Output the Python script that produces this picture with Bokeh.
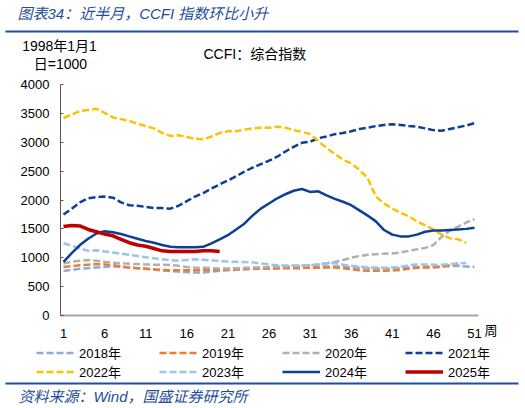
from bokeh.plotting import figure
from bokeh.models import Range1d, FixedTicker, Label, Legend, LegendItem, BoxAnnotation
from bokeh.embed import file_html
from bokeh.resources import INLINE

weeks = list(range(1, 52))
x_ticks = [1, 6, 11, 16, 21, 26, 31, 36, 41, 46, 51]
y_ticks = [0, 500, 1000, 1500, 2000, 2500, 3000, 3500, 4000]

y2018 = [770, 790, 810, 820, 830, 840, 850, 845, 830, 820, 810, 790, 780, 770, 760, 750, 745, 745,
         760, 775, 785, 790, 800, 805, 810, 815, 820, 825, 830, 835, 840, 845, 850, 850, 845, 835,
         825, 820, 815, 815, 815, 820, 830, 840, 845, 850, 850, 855, 860, 850, 840]
y2019 = [840, 855, 870, 880, 890, 885, 870, 850, 830, 820, 810, 800, 790, 785, 785, 785, 785, 790,
         790, 790, 795, 800, 805, 810, 815, 815, 815, 820, 820, 820, 825, 825, 830, 830, 820, 800,
         785, 775, 775, 775, 780, 790, 810, 825, 830, 830, 845, 870, 900]
y2020 = [900, 930, 950, 960, 950, 930, 915, 905, 895, 890, 885, 880, 880, 875, 860, 840, 830, 825,
         820, 815, 815, 820, 825, 830, 835, 840, 845, 850, 855, 860, 870, 885, 905, 925, 960, 1000,
         1030, 1050, 1060, 1070, 1075, 1090, 1120, 1145, 1170, 1220, 1360, 1470, 1540, 1610, 1670]
y2021 = [1750, 1850, 1960, 2030, 2050, 2060, 2040, 1960, 1910, 1900, 1880, 1860, 1860, 1850, 1900,
         1980, 2060, 2120, 2200, 2270, 2340, 2410, 2490, 2560, 2620, 2680, 2750, 2840, 2920, 2990,
         3010, 3070, 3100, 3140, 3160, 3190, 3230, 3250, 3280, 3300, 3310, 3300, 3280, 3270, 3240,
         3210, 3200, 3230, 3260, 3290, 3330]
y2022 = [3420, 3480, 3540, 3560, 3580, 3510, 3430, 3400, 3370, 3320, 3280, 3240, 3160, 3110, 3120,
         3090, 3060, 3050, 3100, 3160, 3190, 3190, 3220, 3240, 3250, 3250, 3270, 3250, 3210, 3180,
         3140, 3020, 2900, 2800, 2700, 2630, 2520, 2380, 2060, 1940, 1850, 1780, 1720, 1630, 1560,
         1490, 1400, 1340, 1320, 1260]
y2023 = [1250, 1210, 1160, 1120, 1130, 1110, 1090, 1070, 1050, 1030, 1010, 990, 975, 960, 950, 960,
         975, 965, 955, 940, 935, 930, 925, 920, 900, 885, 870, 865, 865, 865, 870, 885, 900, 905,
         880, 860, 845, 835, 830, 825, 830, 845, 870, 885, 885, 880, 880, 890, 900, 910]
y2024 = [930, 1080, 1220, 1330, 1420, 1460, 1440, 1410, 1370, 1330, 1290, 1260, 1220, 1190, 1180,
         1180, 1180, 1190, 1250, 1320, 1390, 1490, 1590, 1730, 1850, 1940, 2030, 2100, 2160, 2190,
         2140, 2150, 2080, 2020, 1970, 1910, 1820, 1730, 1630, 1480, 1400, 1370, 1370, 1400, 1450,
         1470, 1470, 1480, 1490, 1500, 1520]
y2025 = [1540, 1560, 1550, 1490, 1450, 1410, 1380, 1320, 1260, 1220, 1200, 1160, 1120, 1110, 1110,
         1110, 1110, 1120, 1120, 1110]

series_names = ["2018年", "2019年", "2020年", "2021年", "2022年", "2023年", "2024年", "2025年"]
series_vals = [y2018, y2019, y2020, y2021, y2022, y2023, y2024, y2025]
colors = ["#8FAADC", "#ED7D31", "#B0B0B0", "#0D3F94", "#FFC000", "#9DC3E6", "#0D3F94", "#C00000"]
dashes = ["7 3", "7 3", "7 3", "7 3", "7 3", "7 3", "solid", "solid"]
widths = [2.5, 2.5, 2.5, 2.5, 2.5, 2.5, 2.5, 3.5]

FONT = "Liberation Sans, Noto Sans CJK SC"
BLUE = "#1F4E9A"
W, H = 525, 408

# the frame fills the whole canvas; the axes sit at fixed data locations inside it
PX_WEEK = 411 / 50.0
PX_VAL = 231 / 4000.0
x_start = 1 - 63 / PX_WEEK
y_start = -(H - 315) / PX_VAL

p = figure(width=W, height=H, output_backend="svg", toolbar_location=None, title=None,
           x_range=Range1d(x_start, x_start + W / PX_WEEK),
           y_range=Range1d(y_start, y_start + H / PX_VAL),
           min_border=0, min_border_left=0, min_border_right=0,
           min_border_top=0, min_border_bottom=0)
p.xgrid.visible = False
p.ygrid.visible = False
p.outline_line_color = None
p.background_fill_color = "white"
p.border_fill_color = "white"

x_lo = 1 - 3 / PX_WEEK
x_hi = 1 + 415 / PX_WEEK
p.xaxis.fixed_location = 0
p.yaxis.fixed_location = x_lo
p.xaxis.bounds = (x_lo, x_hi)
p.yaxis.bounds = (0, 4000)
p.xaxis.ticker = FixedTicker(ticks=x_ticks)
p.yaxis.ticker = FixedTicker(ticks=y_ticks)
p.xaxis.minor_tick_line_color = None
p.yaxis.minor_tick_line_color = None
p.xaxis.major_tick_line_color = None
p.xaxis.axis_line_color = "#A6A6A6"
p.xaxis.axis_line_width = 2
p.yaxis.axis_line_color = "#595959"
p.yaxis.major_tick_line_color = "#595959"
p.yaxis.major_tick_in = 3
p.yaxis.major_tick_out = 0
p.yaxis.major_label_standoff = 11
p.xaxis.major_label_standoff = 7
for ax in (p.xaxis, p.yaxis):
    ax.major_label_text_font = FONT
    ax.major_label_text_font_size = "13px"
    ax.major_label_text_color = "black"

renderers = []
for name, vals, c, d, w in zip(series_names, series_vals, colors, dashes, widths):
    r = p.line(weeks[:len(vals)], vals, line_color=c, line_width=w, line_dash=d)
    renderers.append(r)

items = [LegendItem(label=n, renderers=[r]) for n, r in zip(series_names, renderers)]
legend = Legend(items=items, orientation="horizontal", ncols=4, location=(36, H - 380.5),
                glyph_width=38, glyph_height=19, label_height=19, label_width=80,
                label_standoff=5, spacing=0, padding=0, margin=0,
                border_line_color=None, background_fill_alpha=0,
                label_text_font=FONT, label_text_font_size="13px", label_text_color="black")
p.add_layout(legend)


def lab(text, x, y, size, color="black", style="normal", align="left"):
    # x, y are page pixels from the top-left
    p.add_layout(Label(x=x, y=H - y, x_units="screen", y_units="screen", text=text,
                       text_font=FONT, text_font_size=f"{size}px", text_color=color,
                       text_font_style=style, text_align=align, text_baseline="middle"))


lab("图表34：近半月，CCFI 指数环比小升", 17, 13, 15, BLUE, "italic")
lab("1998年1月1", 59, 45, 14, align="center")
lab("日=1000", 60, 63, 14, align="center")
lab("CCFI：综合指数", 203, 53, 14)
lab("周", 484, 330, 13)
lab("资料来源：Wind，国盛证券研究所", 18, 396, 15, BLUE, "italic")

for top, bottom in ((30, 32), (382, 384)):
    p.add_layout(BoxAnnotation(left=5, right=518, bottom=H - bottom, top=H - top,
                               left_units="screen", right_units="screen",
                               bottom_units="screen", top_units="screen",
                               fill_color=BLUE, fill_alpha=1, line_color=None))

open("out.html", "w").write(file_html(p, INLINE))
